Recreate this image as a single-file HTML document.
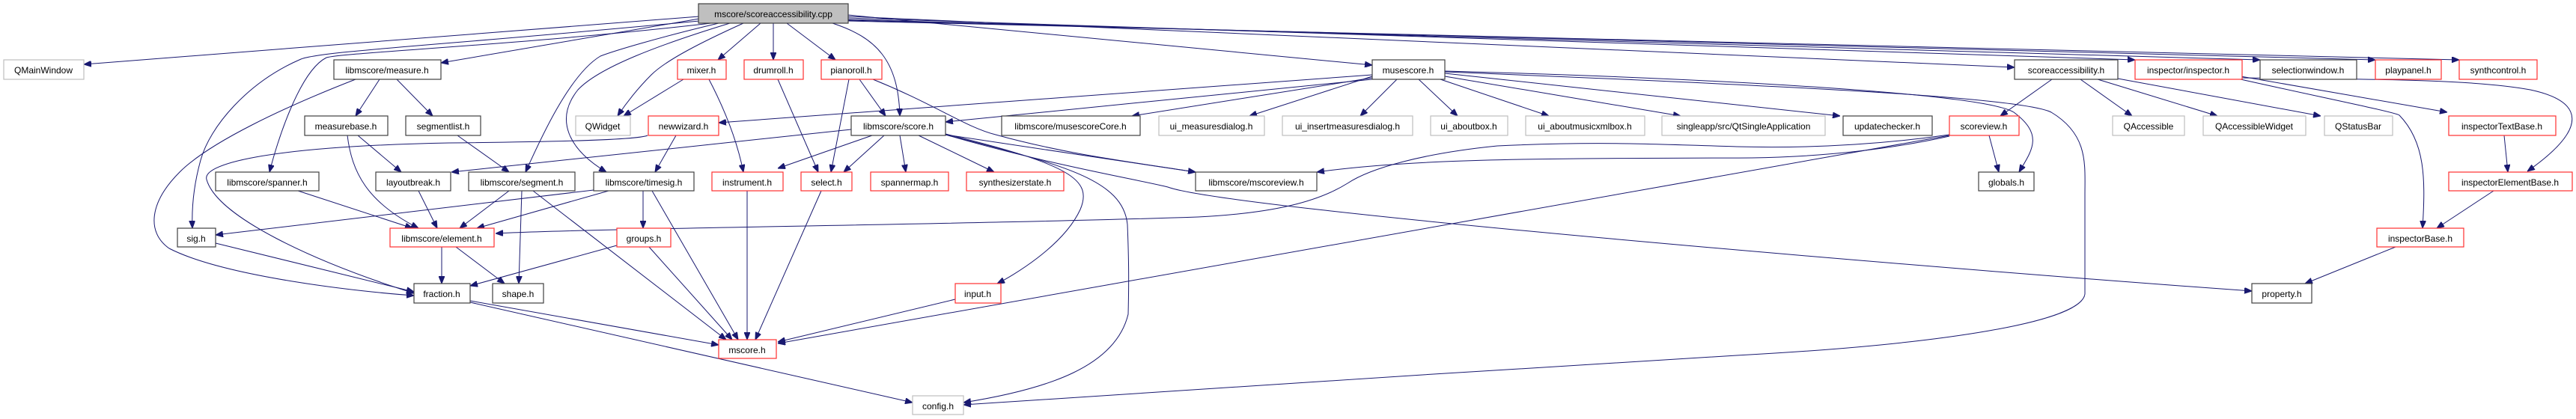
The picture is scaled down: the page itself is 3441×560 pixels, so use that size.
<!DOCTYPE html>
<html><head><meta charset="utf-8"><style>
html,body{margin:0;padding:0;background:#fff;}
svg{display:block}
text{font-family:"Liberation Sans",sans-serif;font-size:12px;fill:#000;text-anchor:middle}
.b{fill:#fff;stroke:#404040;stroke-width:1.2}
.g{fill:#fff;stroke:#bfbfbf;stroke-width:1.2}
.r{fill:#fff;stroke:#ff3030;stroke-width:1.2}
path{fill:none;stroke:#191970;stroke-width:1;marker-end:url(#a)}
</style></head><body>
<svg width="3441" height="560" viewBox="0 0 3441 560" xmlns="http://www.w3.org/2000/svg">
<defs><marker id="a" viewBox="0 0 10 8" refX="10" refY="4" markerWidth="10" markerHeight="8" markerUnits="userSpaceOnUse" orient="auto"><path d="M0,0 L10,4 L0,8 z" style="fill:#191970;stroke:#191970;marker-end:none"/></marker></defs>

<!-- edges from top -->
<path d="M934,22 L112,86"/>
<path d="M934,25 L589,84"/>
<path d="M934,28 C600,60 430,68 402,79 C330,110 280,170 268,214 C258,250 256,280 257,305"/>
<path d="M950,31 C700,60 460,70 436,77 C400,95 370,190 360,230"/>
<path d="M960,31 C880,50 820,68 802,75 C760,100 720,190 702,230"/>
<path d="M975,31 C880,60 800,90 772,120 C740,160 760,200 810,230"/>
<path d="M993,31 C940,55 890,80 870,100 C850,120 835,140 825,155"/>
<path d="M1016,31 L959,80"/>
<path d="M1033,31 L1033,80"/>
<path d="M1051,31 L1116,80"/>
<path d="M1112,31 C1170,50 1200,80 1202,155"/>
<path d="M1133,20 L1833,87"/>
<path d="M1133,22 L2691,90"/>
<path d="M1133,24 L2852,80"/>
<path d="M1133,26 L3019,80"/>
<path d="M1133,27 L3173,80"/>
<path d="M1133,28 L3285,80"/>
<!-- measure -->
<path d="M507,106 L475,155"/>
<path d="M530,106 L578,155"/>
<path d="M475,106 C380,143 280,190 240,230 C200,270 195,310 226,332 C300,370 480,390 553,395"/>
<path d="M478,181 L536,230"/>
<path d="M464,181 C470,230 490,270 559,305"/>
<path d="M611,181 L680,230"/>
<path d="M398,255 L551,305"/>
<path d="M559,255 L584,305"/>
<path d="M288,325 L553,390"/>
<path d="M590,330 L590,379"/>
<path d="M609,330 L674,379"/>
<path d="M680,255 L614,305"/>
<path d="M697,255 L693,379"/>
<path d="M712,255 L970,454"/>
<path d="M793,254 L288,314"/>
<path d="M813,255 L637,305"/>
<path d="M859,255 L859,305"/>
<path d="M871,255 L986,454"/>
<path d="M824,328 L628,382"/>
<path d="M867,330 L978,454"/>
<path d="M628,402 L960,461"/>
<path d="M628,404 L1219,538"/>
<path d="M913,106 L833,155"/>
<path d="M947,106 C970,150 985,190 993,230"/>
<path d="M1039,106 L1093,230"/>
<path d="M1134,106 L1110,230"/>
<path d="M1148,106 L1183,155"/>
<path d="M1166,106 C1250,140 1290,170 1330,180 C1420,205 1500,215 1597,230"/>
<path d="M903,181 L875,230"/>
<path d="M865,181 C850,188 700,190 600,191 C350,196 270,220 276,240 C290,290 420,350 553,392"/>
<path d="M1833,100 L960,164"/>
<path d="M1137,173 L603,230"/>
<path d="M1165,181 L1039,225"/>
<path d="M1181,181 L1127,230"/>
<path d="M1202,181 L1210,230"/>
<path d="M1227,181 L1328,230"/>
<path d="M1263,179 C1430,220 1460,240 1443,280 C1420,330 1350,370 1332,379"/>
<path d="M1263,180 C1420,220 1500,240 1506,300 C1508,350 1508,380 1507,420 C1490,490 1400,520 1287,538"/>
<path d="M1263,180 L1597,230"/>
<path d="M1263,180 C1400,220 1520,240 1560,250 C1640,280 2600,360 3008,389"/>
<path d="M1276,400 L1039,457"/>
<path d="M1097,255 L1009,454"/>
<path d="M998,255 L998,454"/>
<path d="M2604,181 L1039,459"/>
<path d="M2604,180 C2500,195 2400,198 2320,196 C2200,192 2123,189 2000,195 C1900,205 1830,225 1800,245 C1760,270 1700,285 1600,290 C1300,300 800,305 662,312"/>
<path d="M2604,182 C2500,205 2400,210 2340,211 C2100,212 1900,210 1759,230"/>
<path d="M2657,181 L2670,230"/>
<path d="M2741,106 L2672,155"/>
<path d="M2779,106 L2848,155"/>
<path d="M2802,106 L2962,155"/>
<path d="M2829,105 L3100,155"/>
<path d="M1866,106 L1817,155"/>
<path d="M1895,106 L1947,155"/>
<path d="M1924,106 L2069,155"/>
<path d="M1930,102 L2245,155"/>
<path d="M1930,98 L2458,155"/>
<path d="M1833,102 L1669,155"/>
<path d="M1833,104 L1512,155"/>
<path d="M1833,106 L1263,163"/>
<path d="M1930,95 C2300,105 2650,125 2690,150 C2730,180 2715,200 2697,230"/>
<path d="M1930,96 C2400,115 2700,130 2740,150 C2790,180 2785,220 2785,260 L2785,393 C2780,430 2600,460 2320,475 C2000,495 1500,525 1287,541"/>
<path d="M2993,102 L3269,150"/>
<path d="M2995,104 C3150,106 3300,105 3380,120 C3450,135 3460,170 3376,229"/>
<path d="M2993,106 C3100,130 3200,150 3205,154 C3240,190 3240,240 3236,305"/>
<path d="M3345,181 L3350,230"/>
<path d="M3331,255 L3255,305"/>
<path d="M3200,330 L3079,379"/>

<!-- nodes -->
<rect x="933" y="5" width="200" height="26" style="fill:#bfbfbf;stroke:#404040;stroke-width:1.2"/><text x="1033" y="23">mscore/scoreaccessibility.cpp</text>

<rect class="g" x="5" y="80" width="107" height="26"/><text x="58" y="98">QMainWindow</text>
<rect class="b" x="446" y="80" width="143" height="26"/><text x="517" y="98">libmscore/measure.h</text>
<rect class="r" x="905" y="80" width="65" height="26"/><text x="937" y="98">mixer.h</text>
<rect class="r" x="994" y="80" width="79" height="26"/><text x="1033" y="98">drumroll.h</text>
<rect class="r" x="1097" y="80" width="81" height="26"/><text x="1137" y="98">pianoroll.h</text>
<rect class="b" x="1833" y="80" width="97" height="26"/><text x="1881" y="98">musescore.h</text>
<rect class="b" x="2691" y="80" width="138" height="26"/><text x="2760" y="98">scoreaccessibility.h</text>
<rect class="r" x="2852" y="80" width="143" height="26"/><text x="2923" y="98">inspector/inspector.h</text>
<rect class="b" x="3019" y="80" width="129" height="26"/><text x="3083" y="98">selectionwindow.h</text>
<rect class="r" x="3173" y="80" width="88" height="26"/><text x="3217" y="98">playpanel.h</text>
<rect class="r" x="3285" y="80" width="104" height="26"/><text x="3337" y="98">synthcontrol.h</text>

<rect class="b" x="407" y="155" width="111" height="26"/><text x="462" y="173">measurebase.h</text>
<rect class="b" x="542" y="155" width="100" height="26"/><text x="592" y="173">segmentlist.h</text>
<rect class="g" x="769" y="155" width="73" height="26"/><text x="805" y="173">QWidget</text>
<rect class="r" x="866" y="155" width="94" height="26"/><text x="913" y="173">newwizard.h</text>
<rect class="b" x="1137" y="155" width="126" height="26"/><text x="1200" y="173">libmscore/score.h</text>
<rect class="b" x="1338" y="155" width="185" height="26"/><text x="1430" y="173">libmscore/musescoreCore.h</text>
<rect class="g" x="1548" y="155" width="141" height="26"/><text x="1618" y="173">ui_measuresdialog.h</text>
<rect class="g" x="1713" y="155" width="174" height="26"/><text x="1800" y="173">ui_insertmeasuresdialog.h</text>
<rect class="g" x="1911" y="155" width="103" height="26"/><text x="1962" y="173">ui_aboutbox.h</text>
<rect class="g" x="2038" y="155" width="159" height="26"/><text x="2117" y="173">ui_aboutmusicxmlbox.h</text>
<rect class="g" x="2220" y="155" width="218" height="26"/><text x="2329" y="173">singleapp/src/QtSingleApplication</text>
<rect class="b" x="2462" y="155" width="119" height="26"/><text x="2521" y="173">updatechecker.h</text>
<rect class="r" x="2604" y="155" width="93" height="26"/><text x="2650" y="173">scoreview.h</text>
<rect class="g" x="2822" y="155" width="96" height="26"/><text x="2870" y="173">QAccessible</text>
<rect class="g" x="2943" y="155" width="137" height="26"/><text x="3011" y="173">QAccessibleWidget</text>
<rect class="g" x="3105" y="155" width="91" height="26"/><text x="3150" y="173">QStatusBar</text>
<rect class="r" x="3271" y="155" width="143" height="26"/><text x="3342" y="173">inspectorTextBase.h</text>

<rect class="b" x="288" y="230" width="138" height="25"/><text x="357" y="248">libmscore/spanner.h</text>
<rect class="b" x="502" y="230" width="100" height="25"/><text x="552" y="248">layoutbreak.h</text>
<rect class="b" x="626" y="230" width="142" height="25"/><text x="697" y="248">libmscore/segment.h</text>
<rect class="b" x="793" y="230" width="134" height="25"/><text x="860" y="248">libmscore/timesig.h</text>
<rect class="r" x="951" y="230" width="95" height="25"/><text x="998" y="248">instrument.h</text>
<rect class="r" x="1070" y="230" width="68" height="25"/><text x="1104" y="248">select.h</text>
<rect class="r" x="1163" y="230" width="104" height="25"/><text x="1215" y="248">spannermap.h</text>
<rect class="r" x="1291" y="230" width="130" height="25"/><text x="1356" y="248">synthesizerstate.h</text>
<rect class="b" x="1597" y="230" width="162" height="25"/><text x="1678" y="248">libmscore/mscoreview.h</text>
<rect class="b" x="2643" y="230" width="74" height="25"/><text x="2680" y="248">globals.h</text>
<rect class="r" x="3271" y="230" width="165" height="25"/><text x="3353" y="248">inspectorElementBase.h</text>

<rect class="b" x="237" y="305" width="51" height="25"/><text x="262" y="323">sig.h</text>
<rect class="r" x="521" y="305" width="139" height="25"/><text x="590" y="323">libmscore/element.h</text>
<rect class="r" x="824" y="305" width="72" height="25"/><text x="860" y="323">groups.h</text>
<rect class="r" x="3175" y="305" width="116" height="25"/><text x="3233" y="323">inspectorBase.h</text>

<rect class="b" x="553" y="379" width="75" height="26"/><text x="590" y="397">fraction.h</text>
<rect class="b" x="658" y="379" width="68" height="26"/><text x="692" y="397">shape.h</text>
<rect class="r" x="1276" y="379" width="61" height="26"/><text x="1306" y="397">input.h</text>
<rect class="b" x="3008" y="379" width="80" height="26"/><text x="3048" y="397">property.h</text>

<rect class="r" x="960" y="454" width="77" height="25"/><text x="998" y="472">mscore.h</text>
<rect class="g" x="1219" y="529" width="68" height="25"/><text x="1253" y="547">config.h</text>
</svg>
</body></html>
